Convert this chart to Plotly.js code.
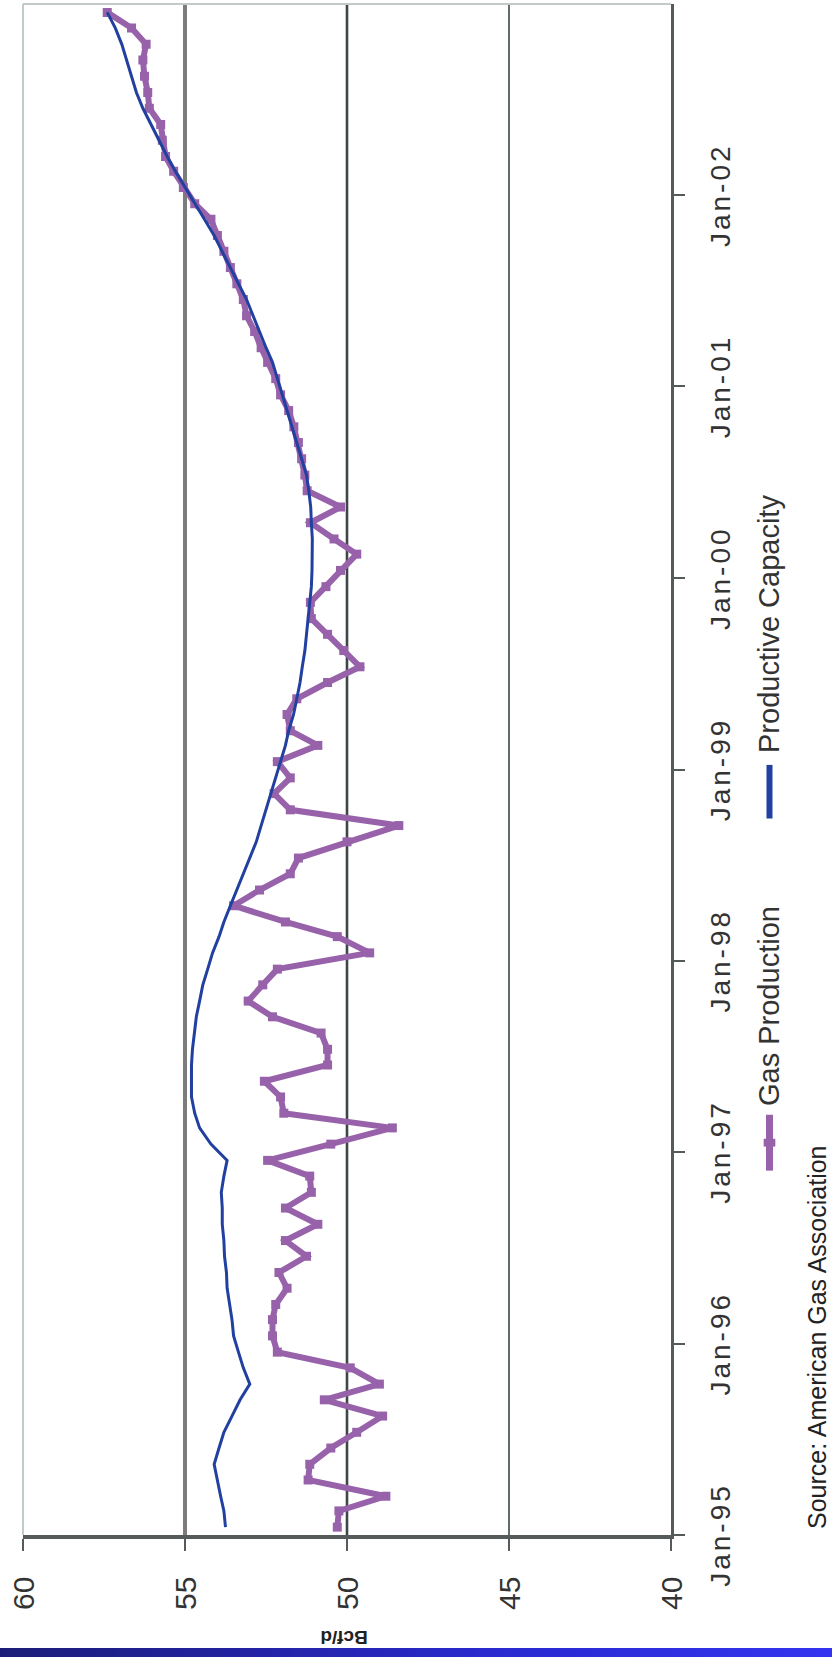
<!DOCTYPE html>
<html>
<head>
<meta charset="utf-8">
<script src="https://cdn.plot.ly/plotly-3.0.1.min.js"></script>
<style>
  html, body { margin: 0; padding: 0; background: #ffffff; width: 832px; height: 1657px; overflow: hidden; }
  #wrap { position: absolute; left: 0; top: 0; width: 1657px; height: 832px;
          transform-origin: 0 0; transform: translate(0px, 1657px) rotate(-90deg); }
  #chart { width: 1657px; height: 832px; }
  #bar { position: absolute; left: 0; top: 1648px; width: 832px; height: 9px;
         background: linear-gradient(to right, #1c1c78, #2a2ad0 60%, #3434f0); }
  .xtick text { letter-spacing: 3px; }
</style>
</head>
<body>
<div id="wrap"><div id="chart"></div></div>
<div id="bar"></div>
<script>
// ---- data (monthly, Jan-95 .. Dec-02), Bcf/d ----
const years = [1995, 1996, 1997, 1998, 1999, 2000, 2001, 2002];
const tickLabels = ["Jan-95", "Jan-96", "Jan-97", "Jan-98", "Jan-99", "Jan-00", "Jan-01", "Jan-02"];
const seriesNames = ["Gas Production", "Productive Capacity"];
const sourceNote = "Source: American Gas Association";
const unitLabel = "Bcf/d";

const gasProduction = [
  // 1995
  50.3, 50.25, 48.8, 51.2, 51.15, 50.5, 49.7, 48.9, 50.7, 49.0, 49.9, 52.15,
  // 1996
  52.3, 52.3, 52.2, 51.85, 52.1, 51.25, 51.9, 50.9, 51.9, 51.1, 51.15, 52.45,
  // 1997
  50.5, 48.6, 51.95, 52.05, 52.55, 50.6, 50.6, 50.8, 52.3, 53.05, 52.6, 52.15,
  // 1998
  49.3, 50.3, 51.9, 53.5, 52.7, 51.75, 51.5, 50.0, 48.4, 51.75, 52.25, 51.75,
  // 1999
  52.15, 50.9, 51.75, 51.85, 51.55, 50.6, 49.6, 50.1, 50.6, 51.1, 51.13, 50.65,
  // 2000
  50.2, 49.7, 50.4, 51.13, 50.2, 51.23, 51.3, 51.4, 51.5, 51.64, 51.8, 52.05,
  // 2001
  52.2, 52.45, 52.65, 52.85, 53.1, 53.2, 53.4, 53.6, 53.8, 54.0, 54.2, 54.7,
  // 2002
  55.05, 55.35, 55.6, 55.7, 55.75, 56.1, 56.15, 56.25, 56.3, 56.2, 56.65, 57.4
];

const productiveCapacity = [
  // 1995
  53.75, 53.8, 53.9, 54.0, 54.1, 53.95, 53.8, 53.55, 53.3, 53.0, 53.2, 53.35,
  // 1996
  53.5, 53.55, 53.62, 53.7, 53.72, 53.78, 53.8, 53.85, 53.85, 53.88, 53.8, 53.7,
  // 1997
  54.2, 54.55, 54.7, 54.8, 54.8, 54.8, 54.77, 54.72, 54.65, 54.55, 54.45, 54.3,
  // 1998
  54.15, 53.95, 53.8, 53.6, 53.4, 53.2, 53.0, 52.8, 52.65, 52.5, 52.35, 52.2,
  // 1999
  52.05, 51.9, 51.8, 51.65, 51.55, 51.45, 51.38, 51.3, 51.25, 51.2, 51.15, 51.1,
  // 2000
  51.08, 51.07, 51.07, 51.1, 51.12, 51.18, 51.25, 51.4, 51.55, 51.7, 51.85, 52.0,
  // 2001
  52.15, 52.3, 52.5, 52.7, 52.9, 53.1, 53.35, 53.6, 53.85, 54.1, 54.4, 54.7,
  // 2002
  55.0, 55.3, 55.55, 55.8, 56.05, 56.3, 56.5, 56.65, 56.8, 56.95, 57.15, 57.4
];

const valueTicks = [40, 45, 50, 55, 60];
const gridValues = [45, 50, 55];

// month dates (points sit mid-month, as in the source chart)
const months = [];
years.forEach(y => {
  for (let m = 1; m <= 12; m++) {
    months.push(y + "-" + String(m).padStart(2, "0") + "-16");
  }
});
const tickDates = years.map(y => y + "-01-01");

const PURPLE = "#9862ab";
const BLUE = "#2140a0";
const FONT = "Arial, 'Liberation Sans', sans-serif";

const gridStyle = {
  45: { color: "#3e4646", width: 1.6 },
  50: { color: "#3e4646", width: 2.6 },
  55: { color: "#7c7c7c", width: 4 }
};

const shapes = gridValues.map(v => ({
  type: "line", xref: "paper", yref: "y", x0: 0, x1: 1, y0: v, y1: v,
  layer: "below", line: { color: gridStyle[v].color, width: gridStyle[v].width }
}));
// light plot-area border (top and right in this orientation)
shapes.push({ type: "line", xref: "paper", yref: "paper", x0: 0, x1: 1, y0: 1, y1: 1,
  layer: "below", line: { color: "#c3caca", width: 2 } });
shapes.push({ type: "line", xref: "paper", yref: "paper", x0: 1, x1: 1, y0: 0, y1: 1,
  layer: "below", line: { color: "#c3caca", width: 2 } });

// legend drawn by hand (long line samples as in the source)
const legY = -0.152;
shapes.push({ type: "line", xref: "paper", yref: "paper", x0: 0.2380, x1: 0.2745, y0: legY, y1: legY,
  line: { color: PURPLE, width: 7 } });
shapes.push({ type: "rect", xref: "paper", yref: "paper", x0: 0.2537, x1: 0.2588, y0: legY - 0.009, y1: legY + 0.009,
  fillcolor: PURPLE, line: { width: 0 } });
shapes.push({ type: "line", xref: "paper", yref: "paper", x0: 0.4680, x1: 0.5030, y0: legY, y1: legY,
  line: { color: BLUE, width: 6 } });

const traces = [
  {
    name: seriesNames[0], x: months, y: gasProduction, type: "scatter",
    mode: "lines+markers",
    line: { color: PURPLE, width: 6 },
    marker: { symbol: "square", size: 9, color: PURPLE }
  },
  {
    name: seriesNames[1], x: months, y: productiveCapacity, type: "scatter",
    mode: "lines",
    line: { color: BLUE, width: 3 }
  }
];

const layout = {
  width: 1657, height: 832,
  margin: { l: 121.5, r: 3.5, t: 23, b: 161 },
  paper_bgcolor: "#ffffff", plot_bgcolor: "#ffffff",
  font: { family: FONT, color: "#222222", size: 29 },
  showlegend: false,
  xaxis: {
    type: "date",
    range: ["1995-01-01", "2003-01-01"],
    tickvals: tickDates, ticktext: tickLabels,
    showgrid: false, zeroline: false,
    showline: true, linecolor: "#555a5a", linewidth: 3,
    ticks: "outside", ticklen: 11, tickwidth: 2, tickcolor: "#555a5a",
    ticklabelstandoff: 11,
    tickfont: { family: FONT, size: 28, color: "#333333" }
  },
  yaxis: {
    range: [40, 60],
    tickvals: valueTicks,
    showgrid: false, zeroline: false,
    showline: true, linecolor: "#555a5a", linewidth: 3.5,
    ticks: "outside", ticklen: 12, tickwidth: 2.5, tickcolor: "#555a5a",
    ticklabelstandoff: 20,
    tickfont: { family: FONT, size: 30, color: "#333333" }
  },
  shapes: shapes,
  annotations: [
    { text: "<b>" + unitLabel + "</b>", xref: "paper", yref: "paper",
      x: -0.0666, y: 0.505, xanchor: "center", yanchor: "middle",
      textangle: -90, showarrow: false,
      font: { family: FONT, size: 19, color: "#222222" } },
    { text: seriesNames[0], xref: "paper", yref: "paper",
      x: 0.2790, y: legY, xanchor: "left", yanchor: "middle", showarrow: false,
      font: { family: FONT, size: 29, color: "#333333" } },
    { text: seriesNames[1], xref: "paper", yref: "paper",
      x: 0.5095, y: legY, xanchor: "left", yanchor: "middle", showarrow: false,
      font: { family: FONT, size: 29, color: "#333333" } },
    { text: sourceNote, xref: "paper", yref: "paper",
      x: 0.0023, y: -0.2255, xanchor: "left", yanchor: "middle", showarrow: false,
      font: { family: "'Liberation Sans Narrow', 'Arial Narrow', Arial, sans-serif", size: 25, color: "#222222" } }
  ]
};

Plotly.newPlot("chart", traces, layout, { staticPlot: true, displayModeBar: false });
</script>
</body>
</html>
